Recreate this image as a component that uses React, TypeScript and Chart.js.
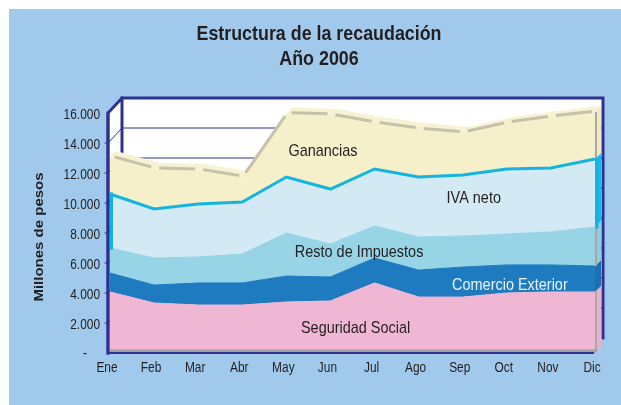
import { useEffect, useRef } from 'react';
import { Chart, registerables } from 'chart.js';
Chart.register(...registerables);

const months = ['Ene', 'Feb', 'Mar', 'Abr', 'May', 'Jun', 'Jul', 'Ago', 'Sep', 'Oct', 'Nov', 'Dic'];
const seguridadSocial = [4070, 3330, 3200, 3200, 3400, 3470, 4670, 3730, 3730, 4000, 4070, 4070];
const comercioExterior = [1260, 1200, 1470, 1470, 1730, 1600, 1660, 1800, 2000, 1870, 1800, 1730];
const restoImpuestos = [1670, 1800, 1730, 1930, 2870, 2200, 2140, 2200, 2070, 2060, 2200, 2600];
const ivaNeto = [3600, 3270, 3530, 3470, 3730, 3660, 3800, 4000, 4070, 4340, 4260, 4530];
const ganancias = [2470, 2670, 2270, 1660, 4220, 4940, 3060, 3200, 2800, 3060, 3400, 3140];
const yTickValues = [0, 2000, 4000, 6000, 8000, 10000, 12000, 14000, 16000];
const yTickLabels = ['-', '2.000', '4.000', '6.000', '8.000', '10.000', '12.000', '14.000', '16.000'];
const titleLines = ['Estructura de la recaudación', 'Año 2006'];
const yTitle = 'Millones de pesos';
// in-chart labels: [text, category position, value, color]
const areaLabels: [string, number, number, string][] = [
  ['Ganancias', 4.83, 13130, '#231f20'],
  ['IVA neto', 8.25, 10000, '#231f20'],
  ['Resto de Impuestos', 5.65, 6420, '#231f20'],
  ['Comercio Exterior', 9.07, 4200, '#eaf3fa'],
  ['Seguridad Social', 5.57, 1330, '#231f20'],
];

const FONT = '"Liberation Sans", Arial, Helvetica, sans-serif';
const BG = '#a0c9eb';
const NAVY = '#2e3192';
const PINK = '#efb7d4';
const BLUE = '#1f7bc0';
const RESTO = '#97d4e6';
const LIGHT = '#d3eaf4';
const CYAN = '#13b5e0';
const YELLOW = '#f5f0c9';
const SX = 0.85;

function txt(ctx: CanvasRenderingContext2D, s: string, x: number, y: number, font: string, color: string, align: CanvasTextAlign) {
  ctx.save();
  ctx.translate(x, y);
  ctx.scale(SX, 1);
  ctx.font = font;
  ctx.fillStyle = color;
  ctx.textAlign = align;
  ctx.textBaseline = 'alphabetic';
  ctx.fillText(s, 0, 0);
  ctx.restore();
}

function line(ctx: CanvasRenderingContext2D, pts: number[][], color: string, w: number) {
  ctx.save();
  ctx.strokeStyle = color;
  ctx.lineWidth = w;
  ctx.lineCap = 'square';
  ctx.beginPath();
  pts.forEach((p, i) => (i ? ctx.lineTo(p[0], p[1]) : ctx.moveTo(p[0], p[1])));
  ctx.stroke();
  ctx.restore();
}

function poly(ctx: CanvasRenderingContext2D, pts: number[][], color: string) {
  ctx.save();
  ctx.fillStyle = color;
  ctx.beginPath();
  pts.forEach((p, i) => (i ? ctx.lineTo(p[0], p[1]) : ctx.moveTo(p[0], p[1])));
  ctx.closePath();
  ctx.fill();
  ctx.restore();
}

const DX = 14;
const DY = 15;

const frame3d = {
  id: 'frame3d',
  beforeDraw(chart: any) {
    const ctx = chart.ctx;
    ctx.save();
    ctx.fillStyle = BG;
    ctx.fillRect(0, 0, chart.width, chart.height);
    ctx.restore();
  },
  beforeDatasetsDraw(chart: any) {
    const ctx = chart.ctx;
    const { left: L, right: R, bottom: B } = chart.chartArea;
    const y = chart.scales.y;
    const fx = L - 2;
    const bx = fx + DX;
    const bR = R + 8;
    const top = y.getPixelForValue(16000);
    const btop = top - DY;
    const bbot = y.getPixelForValue(0) - DY;
    poly(ctx, [[fx, top], [bx, btop], [bR, btop], [bR, bbot], [R - 3, B], [fx, B]], '#ffffff');
    yTickValues.forEach((v) => {
      if (v === 0 || v === 16000) return;
      const py = y.getPixelForValue(v);
      line(ctx, [[fx, py], [bx, py - DY], [bR, py - DY]], NAVY, 1);
      line(ctx, [[fx - 3, py], [fx, py]], NAVY, 1);
    });
    line(ctx, [[fx, B], [fx, top], [bx, btop], [bR, btop], [bR, bbot]], NAVY, 3);
    line(ctx, [[bx, btop], [bx, bbot]], NAVY, 3);
  },
  afterDatasetsDraw(chart: any) {
    const ctx = chart.ctx;
    const { left: L, right: R, bottom: B } = chart.chartArea;
    const x = chart.scales.x;
    const y = chart.scales.y;
    const fx = L - 2;
    const metas = [0, 1, 2, 3, 4].map((k) => chart.getDatasetMeta(k).data);
    const last = months.length - 1;
    const ox = 6, oy = 6;
    // top surface of the stack
    const topPts = metas[4];
    for (let i = 0; i < last; i++) {
      const a = topPts[i], b = topPts[i + 1];
      poly(ctx, [[a.x, a.y], [b.x, b.y], [b.x + ox, b.y - oy], [a.x + ox, a.y - oy]], '#f6f2d2');
    }
    poly(ctx, [[topPts[0].x - 2, topPts[0].y], [topPts[0].x + ox, topPts[0].y - oy], [topPts[0].x + ox, topPts[0].y + 2]], '#f6f2d2');
    // right faces
    const faceCols = ['#eab0cd', '#1c70b2', '#8fcde2', '#1bb8e3', '#efeac0'];
    const grayFace = [true, false, true, false, true];
    for (let k = 0; k < 5; k++) {
      const t = metas[k][last].y;
      const b = k === 0 ? B : metas[k - 1][last].y;
      poly(ctx, [[R, t], [R + ox, t - oy], [R + ox, b - oy], [R, b]], faceCols[k]);
    }
    for (let k = 0; k < 5; k++) {
      if (!grayFace[k]) continue;
      const t = metas[k][last].y;
      const b = k === 0 ? B - 2 : metas[k - 1][last].y;
      line(ctx, [[R + 1, t + 1], [R + 1, b - 1]], '#a8a8a8', 2);
    }
    // IVA side edges
    line(ctx, [[R + 2, metas[3][last].y], [R + 2, metas[2][last].y]], CYAN, 3);
    line(ctx, [[L + 1.5, metas[3][0].y], [L + 1.5, metas[2][0].y]], CYAN, 3);
    // gray segments on top edge
    for (let i = 0; i < last; i++) {
      const a = topPts[i], b = topPts[i + 1];
      const dx = b.x - a.x, dy = b.y - a.y;
      const len = Math.hypot(dx, dy);
      const ux = dx / len, uy = dy / len;
      ctx.save();
      ctx.strokeStyle = '#c6c2aa';
      ctx.lineWidth = 3;
      ctx.beginPath();
      ctx.moveTo(a.x + ux * 4 + 1, a.y + uy * 4 - 1);
      ctx.lineTo(b.x - ux * 4 + 1, b.y - uy * 4 - 1);
      ctx.stroke();
      ctx.restore();
    }
    // floor
    line(ctx, [[L, B - 2], [R, B - 2]], '#a0a0a0', 3);
    line(ctx, [[fx, B], [R - 2, B]], NAVY, 2);
    line(ctx, [[fx, B], [fx, y.getPixelForValue(16000)]], NAVY, 3);

    // area labels
    areaLabels.forEach(([s, idx, v, c]) => {
      txt(ctx, s, x.getPixelForValue(idx), y.getPixelForValue(v), `17px ${FONT}`, c, 'center');
    });
    // y tick labels
    yTickValues.forEach((v, i) => {
      const py = y.getPixelForValue(v) + 5.5;
      if (v === 0) txt(ctx, yTickLabels[i], fx - 21, py - 1, `14px ${FONT}`, '#231f20', 'right');
      else txt(ctx, yTickLabels[i], fx - 8, py, `14px ${FONT}`, '#231f20', 'right');
    });
    // x labels
    months.forEach((m, i) => {
      txt(ctx, m, x.getPixelForValue(i) - 3, B + 19, `14px ${FONT}`, '#231f20', 'center');
    });
    // titles
    txt(ctx, titleLines[0], 310, 31, `bold 21px ${FONT}`, '#231f20', 'center');
    txt(ctx, titleLines[1], 310, 56, `bold 21px ${FONT}`, '#231f20', 'center');
    // y title
    ctx.save();
    ctx.translate(30.5, 228);
    ctx.scale(SX, 1);
    ctx.rotate(-Math.PI / 2);
    ctx.font = `bold 15px ${FONT}`;
    ctx.fillStyle = '#231f20';
    ctx.textAlign = 'center';
    ctx.textBaseline = 'middle';
    ctx.fillText(yTitle, 0, 0);
    ctx.restore();
  },
};

export default function App() {
  const ref = useRef<HTMLCanvasElement>(null);
  useEffect(() => {
    const chart = new Chart(ref.current as HTMLCanvasElement, {
      type: 'line',
      data: {
        labels: months,
        datasets: [
          { label: 'Seguridad Social', data: seguridadSocial, backgroundColor: PINK, borderColor: PINK, borderWidth: 1, fill: 'origin' },
          { label: 'Comercio Exterior', data: comercioExterior, backgroundColor: BLUE, borderColor: BLUE, borderWidth: 1, fill: '-1' },
          { label: 'Resto de Impuestos', data: restoImpuestos, backgroundColor: RESTO, borderColor: RESTO, borderWidth: 1, fill: '-1' },
          { label: 'IVA neto', data: ivaNeto, backgroundColor: LIGHT, borderColor: CYAN, borderWidth: 3, fill: '-1' },
          { label: 'Ganancias', data: ganancias, backgroundColor: YELLOW, borderColor: YELLOW, borderWidth: 1, fill: '-1' },
        ],
      },
      options: {
        responsive: false,
        animation: false,
        devicePixelRatio: 1,
        layout: { padding: { top: 104, right: 26, bottom: 22, left: 0 } },
        elements: { point: { radius: 0, hoverRadius: 0 }, line: { tension: 0 } },
        plugins: { legend: { display: false }, tooltip: { enabled: false }, title: { display: false } },
        scales: {
          x: {
            offset: false,
            grid: { display: false },
            border: { display: false },
            ticks: { display: false },
            afterFit: (s: any) => { s.height = 30; },
          },
          y: {
            stacked: true,
            min: 0,
            max: 16000,
            grid: { display: false },
            border: { display: false },
            ticks: { display: false, stepSize: 2000 },
            afterFit: (s: any) => { s.width = 101; },
          },
        },
      },
      plugins: [frame3d],
    } as any);
    return () => chart.destroy();
  }, []);
  return (
    <div style={{ position: 'absolute', left: 9, top: 9, width: 612, height: 396 }}>
      <canvas ref={ref} width={612} height={396} style={{ display: 'block', width: 612, height: 396 }} />
    </div>
  );
}
